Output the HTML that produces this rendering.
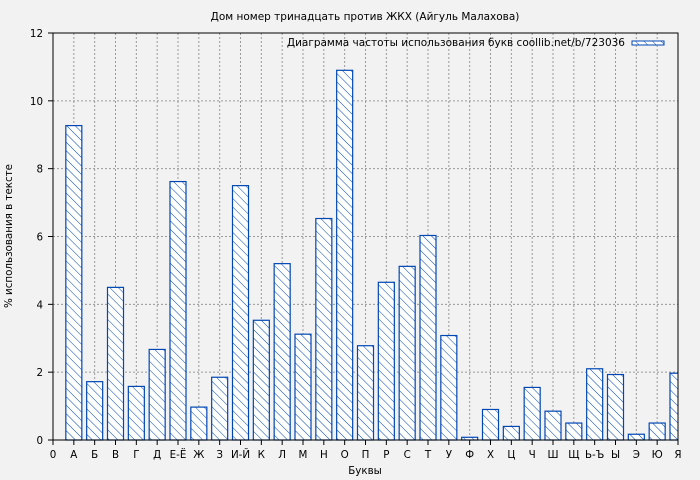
<!DOCTYPE html>
<html><head><meta charset="utf-8"><style>
body{margin:0;background:#f2f2f2;}
svg{display:block;font-family:"DejaVu Sans",sans-serif;}
</style></head><body>
<svg id="s" width="700" height="480" xmlns="http://www.w3.org/2000/svg">
<defs>
<pattern id="h" patternUnits="userSpaceOnUse" width="6" height="6" patternTransform="rotate(-45)">
<rect width="6" height="6" fill="#ffffff"/>
<line x1="0" y1="0" x2="0" y2="6" stroke="#0047b3" stroke-width="1"/>
</pattern>
<clipPath id="c"><rect x="53" y="33" width="625" height="408"/></clipPath>
</defs>
<rect width="700" height="480" fill="#f2f2f2"/>
<text x="365" y="20" font-size="10.5" text-anchor="middle">Дом номер тринадцать против ЖКХ (Айгуль Малахова)</text>
<g id="grid"></g>
<g id="bars" clip-path="url(#c)"></g>
<rect x="53" y="33" width="625" height="407" fill="none" stroke="#000" stroke-width="1"/>
<g id="ticks" font-size="10.3"></g>
<text x="365" y="474" font-size="10.3" text-anchor="middle">Буквы</text>
<text transform="translate(12,236) rotate(-90)" font-size="10.3" text-anchor="middle">% использования в тексте</text>
<text x="625" y="46" font-size="10.5" text-anchor="end">Диаграмма частоты использования букв coollib.net/b/723036</text>
<rect x="632" y="41" width="32" height="4" fill="url(#h)" stroke="#0047b3" stroke-width="1"/>
</svg>
<script>
var ns="http://www.w3.org/2000/svg";
var L=["0","А","Б","В","Г","Д","Е-Ё","Ж","З","И-Й","К","Л","М","Н","О","П","Р","С","Т","У","Ф","Х","Ц","Ч","Ш","Щ","Ь-Ъ","Ы","Э","Ю","Я"];
var V=[9.27,1.72,4.5,1.58,2.67,7.62,0.97,1.85,7.5,3.53,5.2,3.12,6.53,10.9,2.78,4.65,5.12,6.03,3.08,0.08,0.9,0.4,1.55,0.85,0.5,2.1,1.93,0.17,0.5,1.97];
var x0=53,s=625/30,y0=440,k=407/12;
function el(t,a,p,txt){var e=document.createElementNS(ns,t);for(var q in a)e.setAttribute(q,a[q]);if(txt!=null)e.textContent=txt;document.getElementById(p).appendChild(e);}
for(var i=1;i<30;i++){var x=x0+i*s;el("line",{x1:x,y1:33,x2:x,y2:440,stroke:"#999","stroke-dasharray":"2,2"},"grid");}
for(var j=1;j<6;j++){var y=y0-j*2*k;el("line",{x1:53,y1:y,x2:678,y2:y,stroke:"#999","stroke-dasharray":"2,2"},"grid");}
for(var i=0;i<30;i++){var v=V[i],h=v*k,x=x0+(i+1)*s-8;el("rect",{x:x,y:y0-h,width:16,height:h,fill:"url(#h)",stroke:"#0047b3","stroke-width":1.2},"bars");}
for(var i=0;i<=30;i++){var x=x0+i*s;el("line",{x1:x,y1:440,x2:x,y2:445,stroke:"#000"},"ticks");el("text",{x:x,y:458,"text-anchor":"middle"},"ticks",L[i]);}
for(var j=0;j<=6;j++){var y=y0-j*2*k;el("line",{x1:48,y1:y,x2:53,y2:y,stroke:"#000"},"ticks");el("text",{x:43,y:y+4,"text-anchor":"end"},"ticks",String(j*2));}
</script>
</body></html>
